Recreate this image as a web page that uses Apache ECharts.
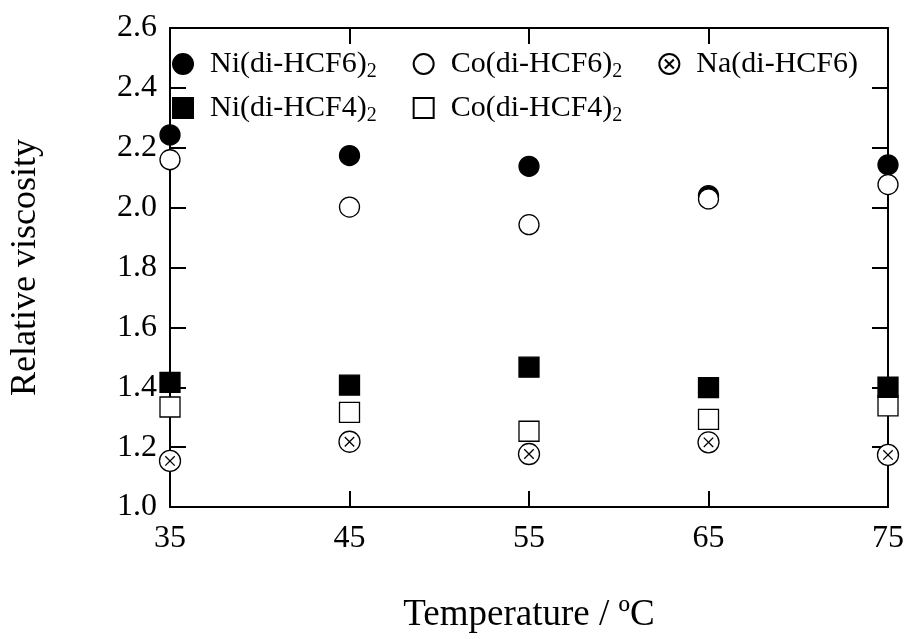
<!DOCTYPE html>
<html>
<head>
<meta charset="utf-8">
<script src="https://cdn.jsdelivr.net/npm/echarts@6/dist/echarts.min.js"></script>
<style>
  html, body { margin: 0; padding: 0; background: #fff; }
  #main { width: 909px; height: 639px; }
</style>
</head>
<body>
<div id="main"></div>
<script>
const temps = [35, 45, 55, 65, 75]
const xTicks = [35, 45, 55, 65, 75]
const yTicks = [1.0, 1.2, 1.4, 1.6, 1.8, 2.0, 2.2, 2.4, 2.6]

const niHCF6 = [2.243, 2.174, 2.138, 2.040, 2.143]
const coHCF6 = [2.160, 2.002, 1.943, 2.029, 2.077]
const naHCF6 = [1.154, 1.218, 1.177, 1.216, 1.174]
const niHCF4 = [1.416, 1.407, 1.467, 1.399, 1.400]
const coHCF4 = [1.334, 1.316, 1.253, 1.293, 1.338]

const names = {
  ni6: 'Ni(di-HCF6)2',
  co6: 'Co(di-HCF6)2',
  na6: 'Na(di-HCF6)',
  ni4: 'Ni(di-HCF4)2',
  co4: 'Co(di-HCF4)2'
}

const FONT = '"Liberation Serif", "Times New Roman", serif'
const crossCircle = 'path://M0,10A10,10 0 1,1 20,10A10,10 0 1,1 0,10Z M5.5,5.5L14.5,14.5 M14.5,5.5L5.5,14.5'

const pts = (vals) => vals.map((v, i) => [temps[i], v])

const mkSeries = (name, vals, symbol, fill, size) => ({
  name: name,
  type: 'scatter',
  data: pts(vals),
  symbol: symbol,
  symbolSize: size || 20,
  clip: false,
  itemStyle: { color: fill, borderColor: '#000', borderWidth: 1.3, opacity: 1 },
  emphasis: { disabled: true }
})

const richText = {
  n: { fontFamily: FONT, fontSize: 30, color: '#000', padding: [0, 0, 0, 12] },
  s: { fontFamily: FONT, fontSize: 20, color: '#000', padding: [16, 0, 0, 0] }
}
const fmt = (name) => {
  if (name.endsWith('2')) return '{n|' + name.slice(0, -1) + '}{s|2}'
  return '{n|' + name + '}'
}

const legendBase = {
  selectedMode: false,
  orient: 'horizontal',
  padding: 0,
  itemWidth: 20,
  itemHeight: 20,
  itemGap: 36,
  formatter: fmt,
  textStyle: { rich: richText }
}

const myChart = echarts.init(document.getElementById('main'))

const axisLine = { show: true, lineStyle: { color: '#000', width: 2 } }
const tick = { show: true, inside: true, length: 16, lineStyle: { color: '#000', width: 2 } }

myChart.setOption({
  backgroundColor: '#fff',
  animation: false,
  grid: { left: 168, right: 21, top: 28, bottom: 131 },
  legend: [
    Object.assign({}, legendBase, {
      left: 172, top: 49,
      data: [
        { name: names.ni6, icon: 'circle' },
        { name: names.co6, icon: 'circle' },
        { name: names.na6, icon: crossCircle }
      ]
    }),
    Object.assign({}, legendBase, {
      left: 172, top: 93,
      data: [
        { name: names.ni4, icon: 'rect' },
        { name: names.co4, icon: 'rect' }
      ]
    })
  ],
  xAxis: [
    {
      type: 'value', min: 35, max: 75, interval: 10,
      name: 'Temperature / ºC', nameLocation: 'middle', nameGap: 90,
      nameTextStyle: { fontFamily: FONT, fontSize: 37, color: '#000' },
      axisLine: axisLine, axisTick: tick, splitLine: { show: false },
      axisLabel: { fontFamily: FONT, fontSize: 32, color: '#000', margin: 16,
        formatter: v => xTicks.includes(v) ? String(v) : '' }
    },
    {
      type: 'value', position: 'top', min: 35, max: 75, interval: 10,
      axisLine: axisLine, axisTick: tick, axisLabel: { show: false }, splitLine: { show: false }
    }
  ],
  yAxis: [
    {
      type: 'value', min: 1.0, max: 2.6, interval: 0.2,
      name: 'Relative viscosity', nameLocation: 'middle', nameGap: 126,
      nameTextStyle: { fontFamily: FONT, fontSize: 36, color: '#000' },
      axisLine: axisLine, axisTick: tick, splitLine: { show: false },
      axisLabel: { fontFamily: FONT, fontSize: 32, color: '#000', margin: 13,
        formatter: v => yTicks.some(t => Math.abs(t - v) < 1e-6) ? v.toFixed(1) : '' }
    },
    {
      type: 'value', position: 'right', min: 1.0, max: 2.6, interval: 0.2,
      axisLine: axisLine, axisTick: tick, axisLabel: { show: false }, splitLine: { show: false }
    }
  ],
  series: [
    mkSeries(names.ni6, niHCF6, 'circle', '#000'),
    mkSeries(names.co6, coHCF6, 'circle', '#fff'),
    mkSeries(names.na6, naHCF6, crossCircle, '#fff', 21),
    mkSeries(names.co4, coHCF4, 'rect', '#fff'),
    mkSeries(names.ni4, niHCF4, 'rect', '#000')
  ]
})
</script>
</body>
</html>
